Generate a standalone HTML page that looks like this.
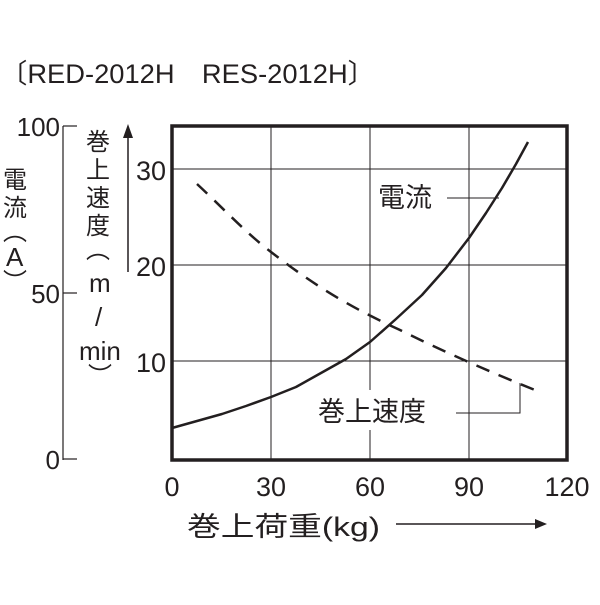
<!DOCTYPE html>
<html><head><meta charset="utf-8"><style>
body{margin:0;background:#fff}
svg text{font-family:"Liberation Sans","Noto Sans CJK JP",sans-serif;fill:#231f20}
</style></head><body>
<svg width="600" height="600" viewBox="0 0 600 600" xmlns="http://www.w3.org/2000/svg">
<text x="0" y="83" font-size="27" textLength="375" lengthAdjust="spacingAndGlyphs">〔RED-2012H　RES-2012H〕</text>
<line x1="63" y1="126" x2="63" y2="460" stroke="#231f20" stroke-width="1.2"/>
<line x1="63" y1="126" x2="77" y2="126" stroke="#231f20" stroke-width="1.2"/>
<line x1="63" y1="293" x2="77" y2="293" stroke="#231f20" stroke-width="1.2"/>
<line x1="63" y1="459" x2="77" y2="459" stroke="#231f20" stroke-width="1.2"/>
<text x="60" y="136" font-size="26" text-anchor="end">100</text>
<text x="60" y="303" font-size="26" text-anchor="end">50</text>
<text x="60" y="469" font-size="26" text-anchor="end">0</text>
<text x="3" y="188" font-size="24">電</text>
<text x="3" y="216" font-size="24">流</text>
<text x="3" y="240" font-size="24">︵</text>
<text x="6" y="266" font-size="26">A</text>
<text x="3" y="290" font-size="24">︶</text>
<text x="86" y="150" font-size="24">巻</text>
<text x="86" y="178" font-size="24">上</text>
<text x="86" y="206" font-size="24">速</text>
<text x="86" y="234" font-size="24">度</text>
<text x="86" y="258" font-size="24">︵</text>
<text x="89" y="292" font-size="26">m</text>
<text x="95" y="326" font-size="26">/</text>
<text x="79" y="360" font-size="26">min</text>
<text x="88" y="384" font-size="24">︶</text>
<line x1="128" y1="272" x2="128" y2="136" stroke="#231f20" stroke-width="1.5"/>
<polygon points="128,124 123,138 133,138" fill="#231f20"/>
<text x="166" y="180" font-size="27" text-anchor="end">30</text>
<text x="166" y="276" font-size="27" text-anchor="end">20</text>
<text x="166" y="372" font-size="27" text-anchor="end">10</text>
<g stroke="#231f20" stroke-width="1">
<line x1="271" y1="126" x2="271" y2="460"/>
<line x1="370" y1="126" x2="370" y2="460"/>
<line x1="469" y1="126" x2="469" y2="460"/>
<line x1="172" y1="169" x2="567" y2="169"/>
<line x1="172" y1="265" x2="567" y2="265"/>
<line x1="172" y1="361" x2="567" y2="361"/>
</g>
<rect x="316" y="390" width="134" height="40" fill="#fff"/>
<rect x="375" y="180" width="70" height="36" fill="#fff"/>
<rect x="172" y="126" width="395" height="334" fill="none" stroke="#231f20" stroke-width="3.5"/>
<polyline points="172,428 197,421 222,414 246,406 271,397 296,387 321,373 346,359 370,342 396,319 422,295 446,268 469,238 486,213 502,188 516,164 528,142" fill="none" stroke="#231f20" stroke-width="2.5" stroke-linejoin="round"/>
<path d="M197,184 C225,210 245,232 271,252 C310,282 345,305 400,330 C440,350 490,372 535,390" fill="none" stroke="#231f20" stroke-width="2.5" stroke-dasharray="14,10"/>
<text x="378" y="207" font-size="27">電流</text>
<line x1="447" y1="198" x2="499" y2="198" stroke="#231f20" stroke-width="1"/>
<text x="318" y="421" font-size="27">巻上速度</text>
<polyline points="456,413 520,413 520,383" fill="none" stroke="#231f20" stroke-width="1"/>
<text x="172" y="496" font-size="27" text-anchor="middle">0</text>
<text x="271" y="496" font-size="27" text-anchor="middle">30</text>
<text x="370" y="496" font-size="27" text-anchor="middle">60</text>
<text x="469" y="496" font-size="27" text-anchor="middle">90</text>
<text x="567" y="496" font-size="27" text-anchor="middle">120</text>
<text x="187" y="536" font-size="27" textLength="193" lengthAdjust="spacingAndGlyphs">巻上荷重(kg)</text>
<line x1="396" y1="524" x2="536" y2="524" stroke="#231f20" stroke-width="1.5"/>
<polygon points="547,524 535,519 535,529" fill="#231f20"/>
</svg>
</body></html>
